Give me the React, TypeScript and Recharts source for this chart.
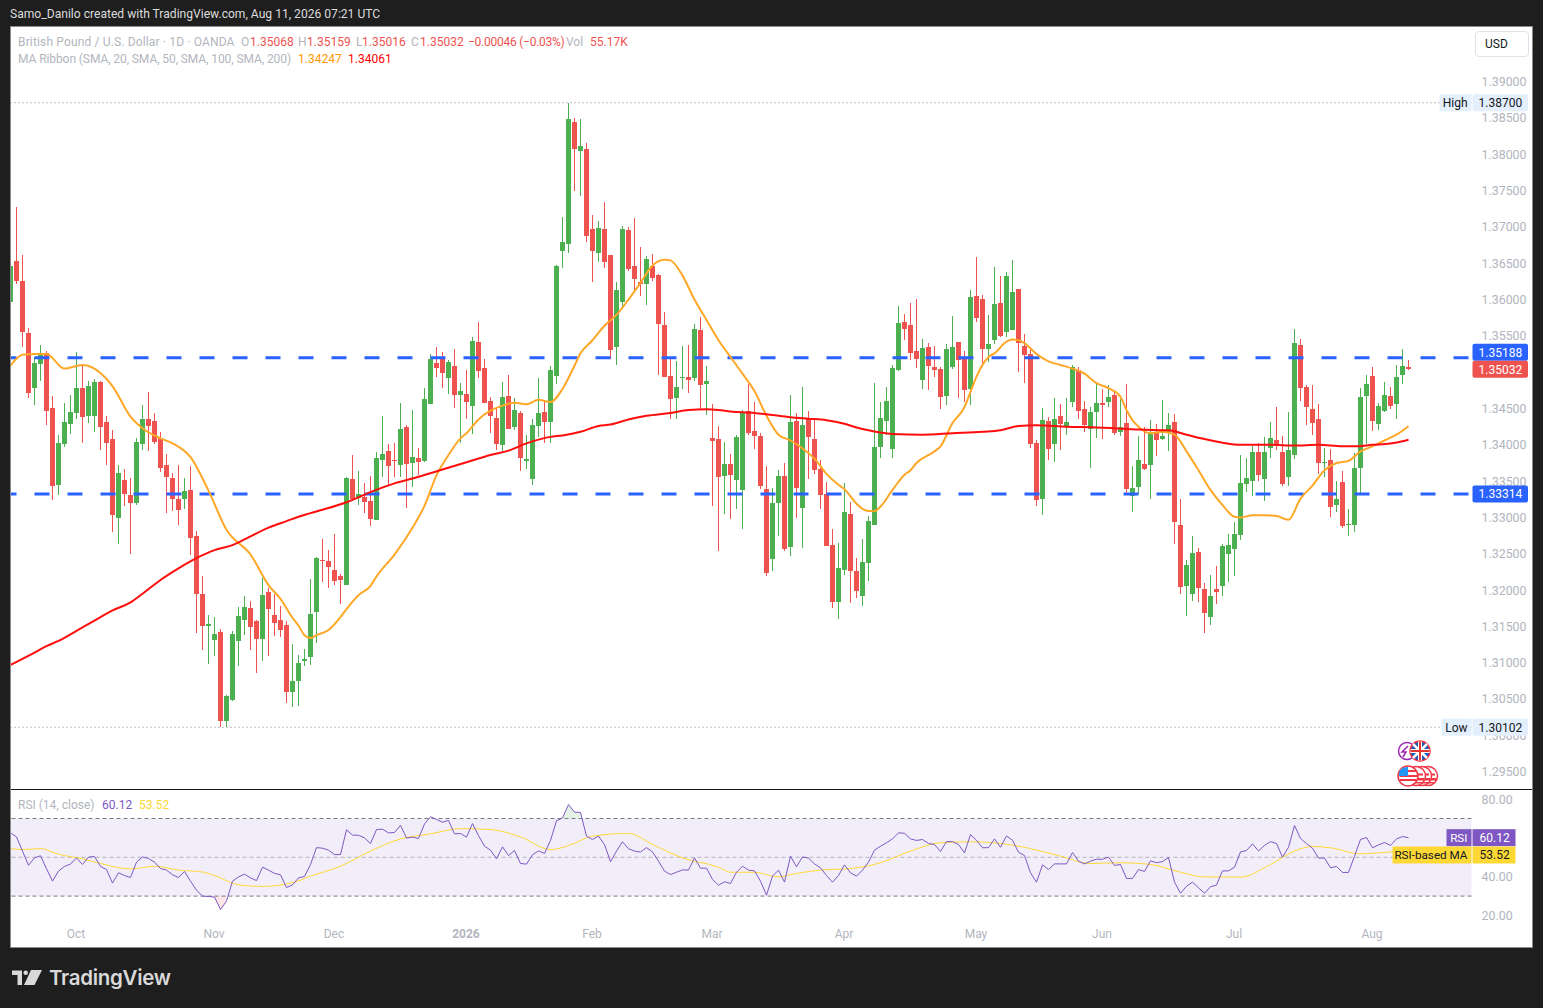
import { Bar, Area, ComposedChart, Line, ReferenceArea, ReferenceLine, XAxis, YAxis } from 'recharts';

const GREEN = '#4caf50';
const RED = '#ef5350';
const BLUE = '#2962ff';
const GRAY = '#b2b5be';
const FONT = 'Roboto, sans-serif';

const opens = [
  1.3596, 1.3652, 1.3625, 1.3553, 1.3477, 1.3510, 1.3525, 1.3450, 1.3344, 1.3400,
  1.3428, 1.3443, 1.3477, 1.3439, 1.3439, 1.3486, 1.3430, 1.3407, 1.3298, 1.3351,
  1.3330, 1.3319, 1.3400, 1.3435, 1.3432, 1.3409, 1.3371, 1.3354, 1.3324, 1.3324,
  1.3337, 1.3274, 1.3194, 1.3150, 1.3130, 1.3141, 1.3019, 1.3048, 1.3129, 1.3158,
  1.3175, 1.3156, 1.3132, 1.3196, 1.3165, 1.3158, 1.3151, 1.3059, 1.3074, 1.3102,
  1.3107, 1.3169, 1.3241, 1.3239, 1.3227, 1.3219, 1.3206, 1.3352, 1.3326, 1.3327,
  1.3322, 1.3295, 1.3378, 1.3391, 1.3378, 1.3371, 1.3424, 1.3374, 1.3381, 1.3377,
  1.3455, 1.3512, 1.3520, 1.3491, 1.3508, 1.3468, 1.3469, 1.3453, 1.3541, 1.3505,
  1.3459, 1.3436, 1.3399, 1.3466, 1.3424, 1.3443, 1.3377, 1.3352, 1.3425, 1.3444,
  1.3430, 1.3494, 1.3666, 1.3675, 1.3844, 1.3803, 1.3806, 1.3696, 1.3663, 1.3696,
  1.3660, 1.3534, 1.3595, 1.3695, 1.3645, 1.3623, 1.3621, 1.3645, 1.3633, 1.3564,
  1.3494, 1.3463, 1.3491, 1.3492, 1.3491, 1.3557, 1.3483, 1.3408, 1.3407, 1.3356,
  1.3373, 1.3351, 1.3337, 1.3446, 1.3418, 1.3411, 1.3338, 1.3242, 1.3319, 1.3356,
  1.3259, 1.3432, 1.3312, 1.3436, 1.3407, 1.3366, 1.3331, 1.3261, 1.3183, 1.3227,
  1.3304, 1.3226, 1.3191, 1.3237, 1.3289, 1.3396, 1.3432, 1.3393, 1.3502, 1.3568,
  1.3564, 1.3528, 1.3488, 1.3534, 1.3506, 1.3503, 1.3466, 1.3506, 1.3541, 1.3517,
  1.3476, 1.3604, 1.3600, 1.3531, 1.3543, 1.3594, 1.3554, 1.3557, 1.3614, 1.3535,
  1.3524, 1.3402, 1.3325, 1.3432, 1.3400, 1.3439, 1.3425, 1.3458, 1.3502, 1.3448,
  1.3421, 1.3444, 1.3457, 1.3458, 1.3468, 1.3417, 1.3429, 1.3329, 1.3341, 1.3373,
  1.3371, 1.3415, 1.3407, 1.3417, 1.3430, 1.3289, 1.3205, 1.3194, 1.3251, 1.3200,
  1.3162, 1.3200, 1.3205, 1.3249, 1.3256, 1.3275, 1.3345, 1.3349, 1.3389, 1.3352,
  1.3395, 1.3406, 1.3389, 1.3355, 1.3385, 1.3537, 1.3479, 1.3448, 1.3435, 1.3374,
  1.3378, 1.3316, 1.3348, 1.3289, 1.3289, 1.3367, 1.3466, 1.3494, 1.3428, 1.3446,
  1.3466, 1.3455, 1.3495, 1.35068,
];

const highs = [
  1.3672, 1.3727, 1.3660, 1.3560, 1.3520, 1.3536, 1.3528, 1.3466, 1.3413, 1.3456,
  1.3468, 1.3527, 1.3510, 1.3487, 1.3490, 1.3487, 1.3439, 1.3420, 1.3371, 1.3366,
  1.3354, 1.3409, 1.3454, 1.3472, 1.3443, 1.3417, 1.3387, 1.3360, 1.3371, 1.3354,
  1.3370, 1.3281, 1.3219, 1.3165, 1.3162, 1.3146, 1.3054, 1.3143, 1.3176, 1.3191,
  1.3184, 1.3158, 1.3216, 1.3202, 1.3194, 1.3177, 1.3156, 1.3125, 1.3110, 1.3118,
  1.3214, 1.3245, 1.3269, 1.3254, 1.3276, 1.3221, 1.3355, 1.3385, 1.3363, 1.3347,
  1.3356, 1.3389, 1.3439, 1.3400, 1.3401, 1.3457, 1.3426, 1.3447, 1.3394, 1.3477,
  1.3524, 1.3534, 1.3527, 1.3516, 1.3531, 1.3484, 1.3502, 1.3548, 1.3568, 1.3517,
  1.3465, 1.3451, 1.3486, 1.3495, 1.3463, 1.3446, 1.3413, 1.3434, 1.3491, 1.3459,
  1.3508, 1.3647, 1.3713, 1.3870, 1.3849, 1.3848, 1.3815, 1.3716, 1.3707, 1.3733,
  1.3660, 1.3623, 1.3700, 1.3699, 1.3711, 1.3671, 1.3659, 1.3662, 1.3634, 1.3582,
  1.3517, 1.3515, 1.3535, 1.3536, 1.3565, 1.3575, 1.3507, 1.3455, 1.3425, 1.3403,
  1.3386, 1.3413, 1.3447, 1.3483, 1.3458, 1.3415, 1.3370, 1.3340, 1.3364, 1.3374,
  1.3468, 1.3443, 1.3479, 1.3446, 1.3436, 1.3378, 1.3348, 1.3283, 1.3264, 1.3347,
  1.3320, 1.3243, 1.3270, 1.3301, 1.3484, 1.3458, 1.3479, 1.3509, 1.3590, 1.3579,
  1.3594, 1.3600, 1.3545, 1.3539, 1.3535, 1.3506, 1.3538, 1.3576, 1.3541, 1.3528,
  1.3612, 1.3658, 1.3605, 1.3578, 1.3644, 1.3632, 1.3637, 1.3654, 1.3614, 1.3552,
  1.3532, 1.3406, 1.3450, 1.3437, 1.3463, 1.3455, 1.3463, 1.3509, 1.3506, 1.3459,
  1.3451, 1.3486, 1.3476, 1.3481, 1.3472, 1.3462, 1.3483, 1.3370, 1.3411, 1.3424,
  1.3433, 1.3428, 1.3461, 1.3443, 1.3442, 1.3324, 1.3240, 1.3273, 1.3257, 1.3209,
  1.3220, 1.3232, 1.3262, 1.3276, 1.3293, 1.3385, 1.3381, 1.3397, 1.3401, 1.3410,
  1.3430, 1.3451, 1.3411, 1.3444, 1.3558, 1.3545, 1.3481, 1.3481, 1.3455, 1.3395,
  1.3393, 1.3349, 1.3363, 1.3311, 1.3388, 1.3477, 1.3495, 1.3506, 1.3457, 1.3486,
  1.3479, 1.3509, 1.3531, 1.35159,
];

const lows = [
  1.3596, 1.3620, 1.3534, 1.3463, 1.3454, 1.3487, 1.3426, 1.3323, 1.3330, 1.3396,
  1.3414, 1.3435, 1.3402, 1.3429, 1.3417, 1.3392, 1.3371, 1.3279, 1.3262, 1.3315,
  1.3249, 1.3316, 1.3392, 1.3390, 1.3400, 1.3362, 1.3305, 1.3308, 1.3288, 1.3311,
  1.3248, 1.3140, 1.3117, 1.3097, 1.3108, 1.3011, 1.30102, 1.3046, 1.3094, 1.3137,
  1.3117, 1.3085, 1.3101, 1.3108, 1.3136, 1.3134, 1.3044, 1.3038, 1.3040, 1.3094,
  1.3096, 1.3126, 1.3210, 1.3202, 1.3206, 1.3180, 1.3206, 1.3322, 1.3316, 1.3305,
  1.3287, 1.3295, 1.3355, 1.3344, 1.3355, 1.3355, 1.3312, 1.3341, 1.3357, 1.3375,
  1.3455, 1.3492, 1.3477, 1.3469, 1.3450, 1.3401, 1.3435, 1.3414, 1.3491, 1.3457,
  1.3415, 1.3392, 1.3391, 1.3421, 1.3420, 1.3363, 1.3366, 1.3344, 1.3410, 1.3401,
  1.3401, 1.3483, 1.3642, 1.3663, 1.3749, 1.3742, 1.3678, 1.3623, 1.3651, 1.3642,
  1.3517, 1.3509, 1.3586, 1.3638, 1.3609, 1.3604, 1.3591, 1.3625, 1.3495, 1.3492,
  1.3434, 1.3434, 1.3476, 1.3470, 1.3487, 1.3447, 1.3440, 1.3315, 1.3253, 1.3304,
  1.3297, 1.3311, 1.3283, 1.3413, 1.3393, 1.3338, 1.3219, 1.3226, 1.3273, 1.3253,
  1.3246, 1.3298, 1.3257, 1.3352, 1.3359, 1.3311, 1.3260, 1.3174, 1.3159, 1.3220,
  1.3181, 1.3188, 1.3177, 1.3212, 1.3289, 1.3381, 1.3412, 1.3381, 1.3501, 1.3543,
  1.3516, 1.3505, 1.3476, 1.3475, 1.3493, 1.3448, 1.3454, 1.3503, 1.3464, 1.3458,
  1.3454, 1.3568, 1.3512, 1.3513, 1.3538, 1.3548, 1.3548, 1.3557, 1.3499, 1.3484,
  1.3395, 1.3315, 1.3302, 1.3378, 1.3375, 1.3392, 1.3413, 1.3451, 1.3435, 1.3417,
  1.3367, 1.3409, 1.3407, 1.3451, 1.3413, 1.3411, 1.3330, 1.3307, 1.3332, 1.3365,
  1.3324, 1.3384, 1.3406, 1.3391, 1.3262, 1.3194, 1.3163, 1.3184, 1.3183, 1.3140,
  1.3151, 1.3180, 1.3191, 1.3210, 1.3218, 1.3268, 1.3334, 1.3329, 1.3349, 1.3322,
  1.3381, 1.3392, 1.3342, 1.3342, 1.3380, 1.3459, 1.3426, 1.3413, 1.3359, 1.3355,
  1.3300, 1.3306, 1.3284, 1.3273, 1.3279, 1.3333, 1.3400, 1.3418, 1.3419, 1.3444,
  1.3448, 1.3435, 1.3483, 1.35016,
];

const closes = [
  1.3645, 1.3624, 1.3554, 1.3470, 1.3512, 1.3526, 1.3446, 1.3342, 1.3402, 1.3430,
  1.3444, 1.3477, 1.3437, 1.3480, 1.3486, 1.3423, 1.3402, 1.3302, 1.3360, 1.3331,
  1.3319, 1.3403, 1.3435, 1.3425, 1.3403, 1.3367, 1.3355, 1.3324, 1.3309, 1.3335,
  1.3271, 1.3194, 1.3150, 1.3152, 1.3139, 1.3019, 1.3053, 1.3139, 1.3163, 1.3176,
  1.3148, 1.3132, 1.3192, 1.3173, 1.3154, 1.3144, 1.3059, 1.3074, 1.3099, 1.3104,
  1.3166, 1.3243, 1.3239, 1.3231, 1.3212, 1.3213, 1.3354, 1.3325, 1.3331, 1.3320,
  1.3297, 1.3381, 1.3387, 1.3370, 1.3377, 1.3421, 1.3373, 1.3382, 1.3375, 1.3462,
  1.3517, 1.3505, 1.3498, 1.3513, 1.3468, 1.3473, 1.3458, 1.3542, 1.3501, 1.3457,
  1.3439, 1.3400, 1.3465, 1.3421, 1.3447, 1.3381, 1.3380, 1.3426, 1.3443, 1.3430,
  1.3502, 1.3645, 1.3678, 1.3848, 1.3806, 1.3810, 1.3687, 1.3666, 1.3697, 1.3651,
  1.3529, 1.3612, 1.3696, 1.3641, 1.3627, 1.3621, 1.3655, 1.3629, 1.3565, 1.3492,
  1.3462, 1.3479, 1.3492, 1.3488, 1.3559, 1.3481, 1.3487, 1.3404, 1.3355, 1.3373,
  1.3358, 1.3410, 1.3444, 1.3415, 1.3411, 1.3342, 1.3223, 1.3319, 1.3356, 1.3256,
  1.3430, 1.3340, 1.3426, 1.3410, 1.3364, 1.3330, 1.3260, 1.3183, 1.3229, 1.3307,
  1.3226, 1.3198, 1.3238, 1.3294, 1.3396, 1.3436, 1.3459, 1.3505, 1.3567, 1.3559,
  1.3526, 1.3517, 1.3532, 1.3508, 1.3502, 1.3465, 1.3531, 1.3534, 1.3516, 1.3474,
  1.3603, 1.3574, 1.3531, 1.3538, 1.3593, 1.3549, 1.3632, 1.3610, 1.3539, 1.3523,
  1.3400, 1.3323, 1.3433, 1.3393, 1.3435, 1.3428, 1.3431, 1.3506, 1.3446, 1.3426,
  1.3444, 1.3457, 1.3454, 1.3465, 1.3415, 1.3424, 1.3338, 1.3340, 1.3378, 1.3366,
  1.3415, 1.3406, 1.3411, 1.3426, 1.3293, 1.3203, 1.3234, 1.3250, 1.3202, 1.3167,
  1.3191, 1.3196, 1.3260, 1.3261, 1.3276, 1.3346, 1.3353, 1.3389, 1.3357, 1.3389,
  1.3408, 1.3399, 1.3345, 1.3392, 1.3539, 1.3477, 1.3451, 1.3429, 1.3374, 1.3375,
  1.3313, 1.3324, 1.3287, 1.3290, 1.3367, 1.3465, 1.3483, 1.3432, 1.3453, 1.3468,
  1.3453, 1.3492, 1.3508, 1.35032,
];

const sma20Bars = [
  0, 2, 4, 6, 9, 12, 15, 17, 20, 22, 25, 27, 30, 33, 36, 40, 43, 45, 47, 48, 49, 50, 51, 53, 55, 56, 58, 60, 61, 64,
  67, 69, 71, 73, 75, 76, 78, 80, 82, 84, 86, 88, 90, 92, 94, 95, 97, 99, 101, 103, 105, 107, 109, 110, 112, 114, 116, 118, 120, 122,
  124, 126, 128, 130, 132, 134, 136, 138, 139, 141, 142, 143, 144, 145, 147, 149, 150, 151, 154, 155, 157, 159, 160, 161, 163, 164, 166, 167, 168, 169,
  171, 173, 175, 177, 179, 181, 183, 185, 186, 187, 188, 190, 192, 194, 196, 198, 200, 202, 204, 205, 207, 209, 211, 213, 215, 217, 219, 221, 223, 225,
  227, 229, 231, 233,
];
const sma20Values = [
  1.3508, 1.3523, 1.3524, 1.3524, 1.3504, 1.3509, 1.3498, 1.3480, 1.3438, 1.3422, 1.3408, 1.3401, 1.3382, 1.3336, 1.3282, 1.3248, 1.3206, 1.3187, 1.3161, 1.3150, 1.3137, 1.3133, 1.3137, 1.3144, 1.3162, 1.3173, 1.3192, 1.3205, 1.3218, 1.3248,
  1.3285, 1.3315, 1.3357, 1.3385, 1.3408, 1.3415, 1.3434, 1.3446, 1.3453, 1.3457, 1.3455, 1.3461, 1.3458, 1.3476, 1.3508, 1.3525, 1.3543, 1.3563, 1.3578, 1.3599, 1.3622, 1.3646, 1.3654, 1.3653, 1.3632, 1.3599, 1.3571, 1.3543, 1.3520, 1.3497,
  1.3473, 1.3439, 1.3413, 1.3405, 1.3394, 1.3380, 1.3359, 1.3344, 1.3338, 1.3318, 1.3311, 1.3308, 1.3308, 1.3314, 1.3337, 1.3358, 1.3364, 1.3374, 1.3390, 1.3397, 1.3429, 1.3451, 1.3472, 1.3493, 1.3520, 1.3525, 1.3541, 1.3544, 1.3543, 1.3539,
  1.3524, 1.3514, 1.3509, 1.3504, 1.3497, 1.3484, 1.3477, 1.3465, 1.3447, 1.3433, 1.3424, 1.3415, 1.3417, 1.3413, 1.3390, 1.3364, 1.3337, 1.3316, 1.3300, 1.3299, 1.3302, 1.3302, 1.3301, 1.3296, 1.3325, 1.3343, 1.3364, 1.3374, 1.3377, 1.3390,
  1.3397, 1.3405, 1.3413, 1.34247,
];

const sma200Bars = [
  0, 4, 6, 8, 11, 14, 17, 20, 22, 25, 28, 31, 34, 37, 40, 43, 46, 48, 50, 56, 60, 64, 68, 72, 76, 80, 83, 86, 90, 92,
  95, 98, 100, 103, 106, 110, 113, 116, 118, 120, 124, 127, 130, 133, 136, 139, 141, 143, 147, 152, 157, 162, 165, 168, 171, 176, 181, 186, 188, 193,
  196, 199, 202, 205, 210, 214, 218, 222, 224, 227, 230, 232, 233,
];
const sma200Values = [
  1.3096, 1.3113, 1.3122, 1.3129, 1.3143, 1.3157, 1.3171, 1.3182, 1.3194, 1.3213, 1.3229, 1.3243, 1.3254, 1.3261, 1.3273, 1.3285, 1.3294, 1.3300, 1.3305, 1.3320, 1.3334, 1.3346, 1.3355, 1.3365, 1.3375, 1.3385, 1.3391, 1.3401, 1.3410, 1.3412,
  1.3417, 1.3425, 1.3427, 1.3434, 1.3439, 1.3443, 1.3447, 1.3448, 1.3447, 1.3445, 1.3443, 1.3440, 1.3437, 1.3435, 1.3433, 1.3428, 1.3423, 1.3419, 1.3414, 1.3413, 1.3415, 1.3417, 1.3419, 1.3425, 1.3426, 1.3424, 1.3423, 1.3421, 1.3420, 1.3419,
  1.3413, 1.3407, 1.3402, 1.3399, 1.3399, 1.3398, 1.3399, 1.3397, 1.3397, 1.3399, 1.3401, 1.3404, 1.34061,
];

const rsiValues = [
  62.6, 60.5, 53.2, 45.9, 49.7, 50.8, 44.1, 37.7, 42.9, 45.3,
  46.5, 49.7, 46.3, 50.1, 50.4, 45.3, 43.7, 36.7, 42, 40.6,
  39.6, 47.5, 50.2, 49.4, 47.5, 44.2, 43.4, 41, 39.6, 42.7,
  37.7, 33, 30, 29.8, 29.5, 23.1, 27.4, 37.7, 39.9, 41.3,
  39.4, 38, 44.9, 43.4, 41.7, 41, 34.4, 35.8, 39.4, 40.1,
  46.3, 55, 54.7, 53.7, 51.4, 51.4, 64.2, 61.4, 61.4, 60,
  57.1, 64.3, 64.5, 62.6, 62.8, 66.5, 59.9, 60.4, 59.7, 67.2,
  70.9, 69.5, 68.1, 69, 62.1, 62.3, 60.4, 67.4, 61.2, 55.7,
  53.7, 49.2, 55.4, 50.9, 53.5, 46.8, 46.5, 51.3, 53.3, 52,
  58.7, 68.8, 70.3, 77.2, 73.3, 73.1, 60.9, 59.2, 60.9, 56.6,
  47.7, 53.2, 58, 54.4, 53.2, 52.7, 55, 52.8, 48, 42.9,
  41.1, 42.3, 43.5, 43.4, 49.7, 44.4, 44.4, 38.6, 35.6,
  37.4, 36.5, 42.3, 45.4, 43.4, 43, 37.7, 30.5, 40.3, 43.4,
  37.2, 50.6, 45.1, 50.2, 49.6, 46.6, 44.6, 40.6, 37.2, 40.6,
  46.1, 42, 40.3, 43.4, 47.5, 53.7, 55.7, 57.5, 59.5, 62.6,
  62.4, 59.5, 58.7, 59.2, 57.1, 56.6, 53, 58.1, 58.1, 56.6,
  52.3, 61.7, 58.8, 54.9, 55, 59.5, 55.2, 61, 58.8, 52.6,
  50.9, 42, 37.2, 46.1, 43.7, 46.6, 46.6, 46.6, 52.5, 48,
  46.6, 48, 49, 49, 50.1, 45.8, 46.3, 39.1, 39.1, 43.7,
  42.7, 48.2, 47.2, 47.8, 49.9, 37.2, 31.5, 35.1, 37.2, 34.3,
  31.5, 34.8, 35.7, 43, 43, 44.9, 52.8, 53.5, 56.9, 53.3,
  56.1, 58.1, 57.1, 50.1, 55.2, 66.4, 59.7, 57.1, 54.7, 49.6,
  49.6, 44.6, 45.3, 42.2, 42.2, 50.6, 59.2, 60.2, 54.9, 56.4,
  57.6, 56.1, 59.5, 60.7, 60.12,
];

const rsiMaBars = [
  0, 2, 5, 8, 12, 15, 20, 24, 28, 32, 34, 38, 42, 47, 50, 55, 60, 65, 70, 75, 80, 85, 90, 93, 97, 103, 107, 112, 118,
  120, 124, 128, 131, 135, 140, 145, 150, 155, 160, 165, 170, 175, 180, 185, 190, 195, 199, 205, 210, 214, 217, 220, 225, 228, 233,
];
const rsiMaValues = [
  54.4, 54, 54.5, 51.6, 49.2, 46.8, 44, 45.4, 43.4, 42.4, 40.6, 35.8, 35, 36.9, 40.3, 45.4, 53.2, 59.5, 62.1, 64.8, 64.3, 60.5, 54, 56, 60.9, 62.3, 56.6, 49.7, 44.9,
  42.3, 42.3, 39.9, 41.7, 43.4, 44.2, 47.2, 53.2, 57.5, 58, 57.1, 54.5, 50.6, 46.8, 47.2, 46.3, 42.3, 39.9, 39.8, 46.3, 53.2, 55.6, 54.9, 51.8, 52.3, 53.52,
];

const priceTicks = [
  1.39, 1.385, 1.38, 1.375, 1.37, 1.365, 1.36, 1.355, 1.35, 1.345,
  1.34, 1.335, 1.33, 1.325, 1.32, 1.315, 1.31, 1.305, 1.3, 1.295,
];
const rsiTicks = [80, 40, 20];
const monthBars = [11, 34, 54, 76, 97, 117, 139, 161, 182, 204, 227];
const monthLabels = ['Oct', 'Nov', 'Dec', '2026', 'Feb', 'Mar', 'Apr', 'May', 'Jun', 'Jul', 'Aug'];

const TOTAL_SLOTS = 244;
const PRICE_DOMAIN = [1.29252, 1.39743];

const lookup = (bars: number[], values: number[], i: number) => {
  const at = bars.indexOf(i);
  return at >= 0 ? values[at] : null;
};

const priceRows = Array.from({ length: TOTAL_SLOTS }, (_, i) => ({
  i,
  open: i < opens.length ? opens[i] : null,
  high: i < opens.length ? highs[i] : null,
  low: i < opens.length ? lows[i] : null,
  close: i < opens.length ? closes[i] : null,
  sma20: lookup(sma20Bars, sma20Values, i),
  sma200: lookup(sma200Bars, sma200Values, i),
}));

const rsiRows = Array.from({ length: TOTAL_SLOTS }, (_, i) => ({
  i,
  rsi: i < rsiValues.length ? rsiValues[i] : null,
  rsiMa: lookup(rsiMaBars, rsiMaValues, i),
}));

function Candle(props: any) {
  const { x, y, width, height, payload } = props;
  if (payload.high == null || !height) return null;
  const perUnit = Math.abs(height) / (payload.high - payload.low);
  const top = Math.min(y, y + height);
  const toY = (v: number) => top + (payload.high - v) * perUnit;
  const cx = Math.floor(x + width / 2);
  const bodyTop = toY(Math.max(payload.open, payload.close));
  const bodyBottom = toY(Math.min(payload.open, payload.close));
  const color = payload.close >= payload.open ? GREEN : RED;
  return (
    <g shapeRendering="crispEdges">
      <rect x={cx} y={top} width={1} height={Math.abs(height)} fill={color} />
      <rect x={cx - 2} y={bodyTop} width={5} height={Math.max(bodyBottom - bodyTop, 1)} fill={color} />
    </g>
  );
}

function PriceTag(props: any) {
  const { viewBox, text, name, nameWidth = 0, fill, color, shift = 0 } = props;
  const right = viewBox.x + viewBox.width;
  const cy = viewBox.y + shift;
  return (
    <g style={{ fontFamily: FONT, fontSize: 12 }}>
      {name && <rect x={right - nameWidth} y={cy - 8.5} width={nameWidth} height={17} fill={fill} />}
      {name && <text x={right - 4} y={cy + 4.5} textAnchor="end" fill={color}>{name}</text>}
      <rect x={right + 1} y={cy - 8.5} width={55.5} height={17} rx={2} fill={fill} />
      <text x={right + 7} y={cy + 4.5} fill={color}>{text}</text>
    </g>
  );
}

function RsiTag(props: any) {
  const { viewBox, text, name, nameWidth, fill, color, shift = 0 } = props;
  const right = viewBox.x + viewBox.width;
  const cy = viewBox.y + shift;
  return (
    <g style={{ fontFamily: FONT, fontSize: 12 }}>
      <rect x={right - nameWidth} y={cy - 8.5} width={nameWidth} height={17} fill={fill} />
      <text x={right - 4} y={cy + 4.5} textAnchor="end" fill={color} style={{ fontSize: 11.7 }}>{name}</text>
      <rect x={right + 1} y={cy - 8.5} width={43} height={17} fill={fill} />
      <text x={right + 8} y={cy + 4.5} fill={color}>{text}</text>
    </g>
  );
}

function MonthTick(props: any) {
  const { x, y, payload } = props;
  const label = monthLabels[monthBars.indexOf(payload.value)];
  return (
    <text x={x - 0.5} y={y + 5} textAnchor="middle" fill={GRAY} fontSize={12} fontWeight={label === '2026' ? 700 : 400}>
      {label}
    </text>
  );
}

const legendText = (x: number, y: number, text: string, color: string, spacing = 0) => (
  <span style={{ position: 'absolute', left: x, top: y, color, whiteSpace: 'nowrap', lineHeight: '16px', letterSpacing: spacing }}>{text}</span>
);

function FlagIcons() {
  const stripes = (cx: number) => (
    <g key={cx}>
      <circle cx={cx} cy={776} r={9.5} fill="#fff" stroke="#f23645" strokeWidth={1.5} />
      <rect x={cx - 8} y={778} width={16} height={2.5} fill="#f23645" />
      <rect x={cx - 6} y={773.5} width={13} height={2} fill="#f23645" />
      <rect x={cx - 6} y={782} width={12} height={1.5} fill="#f23645" />
    </g>
  );
  return (
    <svg width={1543} height={1008} style={{ position: 'absolute', left: 0, top: 0, pointerEvents: 'none' }}>
      <circle cx={1407} cy={751} r={8.5} fill="#fff" stroke="#9c27b0" strokeWidth={1.5} />
      <path d="M1408 746 L1402 752 L1406 752 L1403 757" fill="none" stroke="#9c27b0" strokeWidth={1.5} />
      <circle cx={1420} cy={751} r={10} fill="#1e5bb5" stroke="#f23645" strokeWidth={1.5} />
      <path d="M1413 744 L1427 758 M1427 744 L1413 758" stroke="#fff" strokeWidth={2.5} />
      <path d="M1420 741.5 V760.5 M1410.5 751 H1429.5" stroke="#fff" strokeWidth={4} />
      <path d="M1420 741.5 V760.5 M1410.5 751 H1429.5" stroke="#e53935" strokeWidth={2} />
      {[1428, 1422, 1416].map(stripes)}
      <circle cx={1408} cy={776} r={10} fill="#fff" stroke="#f23645" strokeWidth={1.5} />
      <path d="M1399.5 771 H1416.5 M1399.5 776 H1417.5 M1399.5 780 H1416.5" stroke="#f23645" strokeWidth={2} />
      <path d="M1400 770 A9 9 0 0 1 1408 767 V776 H1399 A9 9 0 0 1 1400 770 Z" fill="#2196f3" />
    </svg>
  );
}

export default function App() {
  return (
    <div style={{ position: 'absolute', left: 0, top: 0, width: 1543, height: 1008, background: '#1e1e1e', fontFamily: FONT, overflow: 'hidden' }}>
      <span style={{ position: 'absolute', left: 10, top: 6, color: '#dcdcdc', fontSize: 12.1, lineHeight: '16px', whiteSpace: 'nowrap' }}>
        Samo_Danilo created with TradingView.com, Aug 11, 2026 07:21 UTC
      </span>

      {/* white panel, the charts sit inside it in page coordinates */}
      <div style={{ position: 'absolute', left: 10, top: 26, width: 1523, height: 922, background: '#fff', overflow: 'hidden' }}>
        <div style={{ position: 'absolute', left: -10, top: -26, width: 1543, height: 1008 }}>
          <div style={{ position: 'absolute', left: 0, top: 0 }}>
            <ComposedChart
              width={1533}
              height={789}
              data={priceRows}
              margin={{ top: 27, left: 7.5, right: 0, bottom: 0 }}
              barCategoryGap={0}
            >
              <XAxis dataKey="i" hide />
              <YAxis
                orientation="right"
                width={61.5}
                domain={PRICE_DOMAIN}
                allowDataOverflow
                ticks={priceTicks}
                interval={0}
                axisLine={false}
                tickLine={false}
                tickMargin={4}
                tick={{ fill: GRAY, fontSize: 12.4, dy: 0.7 }}
                tickFormatter={(v: number) => v.toFixed(5)}
              />
              <ReferenceLine y={1.35188} stroke={BLUE} strokeWidth={3} strokeDasharray="15 18" strokeDashoffset={-3} />
              <ReferenceLine y={1.33314} stroke={BLUE} strokeWidth={3} strokeDasharray="15 18" strokeDashoffset={-3} />
              <ReferenceLine y={1.387} stroke="#787b86" strokeWidth={1} strokeDasharray="1 3" />
              <ReferenceLine y={1.30102} stroke="#787b86" strokeWidth={1} strokeDasharray="1 3" />
              <Bar dataKey={(d: any) => (d.high == null ? null : [d.low, d.high])} shape={<Candle />} isAnimationActive={false} />
              <Line dataKey="sma20" connectNulls dot={false} stroke="#ffa726" strokeWidth={2} type="monotone" isAnimationActive={false} />
              <Line dataKey="sma200" connectNulls dot={false} stroke="#ff0d0d" strokeWidth={2} type="monotone" isAnimationActive={false} />
            </ComposedChart>
          </div>

          {/* price tags go in their own layer so they cover the axis labels */}
          <div style={{ position: 'absolute', left: 0, top: 0 }}>
            <ComposedChart
              width={1533}
              height={789}
              data={priceRows}
              margin={{ top: 27, left: 7.5, right: 61.5, bottom: 0 }}
            >
              <XAxis dataKey="i" hide />
              <YAxis hide domain={PRICE_DOMAIN} allowDataOverflow />
              <ReferenceLine y={1.35188} stroke="none" label={<PriceTag text="1.35188" fill={BLUE} color="#fff" shift={-5.5} />} />
              <ReferenceLine y={1.35032} stroke="none" label={<PriceTag text="1.35032" fill={RED} color="#fff" />} />
              <ReferenceLine y={1.33314} stroke="none" label={<PriceTag text="1.33314" fill={BLUE} color="#fff" />} />
              <ReferenceLine y={1.387} stroke="none" label={<PriceTag text="1.38700" name="High" nameWidth={32} fill="#e3effd" color="#131722" />} />
              <ReferenceLine y={1.30102} stroke="none" label={<PriceTag text="1.30102" name="Low" nameWidth={30} fill="#e3effd" color="#131722" />} />
            </ComposedChart>
          </div>

          <div style={{ position: 'absolute', left: 0, top: 790 }}>
            <ComposedChart
              width={1533}
              height={157}
              data={rsiRows}
              margin={{ top: 0, left: 7.5, right: 0, bottom: 0 }}
            >
              <XAxis
                dataKey="i"
                type="number"
                domain={[-0.5, 243.5]}
                ticks={monthBars}
                interval={0}
                axisLine={false}
                tickLine={false}
                height={22}
                tick={<MonthTick />}
              />
              <YAxis
                orientation="right"
                width={61.5}
                domain={[15.1, 84.7]}
                allowDataOverflow
                ticks={rsiTicks}
                interval={0}
                axisLine={false}
                tickLine={false}
                tickMargin={4}
                tick={{ fill: GRAY, fontSize: 12.4 }}
                tickFormatter={(v: number) => v.toFixed(2)}
              />
              <ReferenceArea y1={30} y2={70} fill="#7e57c2" fillOpacity={0.1} stroke="none" />
              <ReferenceLine y={70} stroke="#787b86" strokeDasharray="4 3" />
              <ReferenceLine y={50} stroke="#787b86" strokeOpacity={0.5} strokeDasharray="4 3" />
              <ReferenceLine y={30} stroke="#787b86" strokeDasharray="4 3" />
              <Area dataKey={(d: any) => (d.rsi != null && d.rsi > 70 ? [70, d.rsi] : null)} stroke="none" fill="#4caf50" fillOpacity={0.15} isAnimationActive={false} />
              <Area dataKey={(d: any) => (d.rsi != null && d.rsi < 30 ? [d.rsi, 30] : null)} stroke="none" fill="#ef5350" fillOpacity={0.15} isAnimationActive={false} />
              <Line dataKey="rsiMa" connectNulls dot={false} stroke="#fdd835" strokeWidth={1} type="monotone" isAnimationActive={false} />
              <Line dataKey="rsi" dot={false} stroke="#7e57c2" strokeWidth={1} isAnimationActive={false} />
              <ReferenceLine y={60.12} stroke="none"
                label={<RsiTag text="60.12" name="RSI" nameWidth={25} fill="#7e57c2" color="#fff" />} />
              <ReferenceLine y={53.52} stroke="none"
                label={<RsiTag text="53.52" name="RSI-based MA" nameWidth={79} fill="#fdd835" color="#131722" shift={4.5} />} />
            </ComposedChart>
          </div>

          <div style={{ position: 'absolute', left: 11, top: 789, width: 1522, height: 1, background: '#131722' }} />

          <div style={{ position: 'absolute', left: 0, top: 0, width: 1543, height: 1008, fontSize: 12, pointerEvents: 'none' }}>
            {legendText(18, 34, 'British Pound / U.S. Dollar · 1D · OANDA', GRAY, 0.15)}
            {legendText(241, 34, 'O', GRAY)}
            {legendText(250, 34, '1.35068', RED)}
            {legendText(298, 34, 'H', GRAY)}
            {legendText(307, 34, '1.35159', RED)}
            {legendText(356, 34, 'L', GRAY)}
            {legendText(362, 34, '1.35016', RED)}
            {legendText(411, 34, 'C', GRAY)}
            {legendText(420, 34, '1.35032', RED)}
            {legendText(468, 34, '−0.00046 (−0.03%)', RED, -0.25)}
            {legendText(566, 34, 'Vol', GRAY)}
            {legendText(590, 34, '55.17K', RED)}
            {legendText(18, 51, 'MA Ribbon (SMA, 20, SMA, 50, SMA, 100, SMA, 200)', GRAY, -0.08)}
            {legendText(298, 51, '1.34247', '#ff9800')}
            {legendText(348, 51, '1.34061', '#f00')}
            {legendText(18, 797, 'RSI (14, close)', GRAY)}
            {legendText(102, 797, '60.12', '#7e57c2')}
            {legendText(139, 797, '53.52', '#fdd835')}
            <div style={{ position: 'absolute', left: 1475, top: 31, width: 54, height: 26, boxSizing: 'border-box', background: '#fff', border: '1px solid #e0e3eb', borderRadius: 4, color: '#131722', lineHeight: '24px', paddingLeft: 9 }}>
              USD
            </div>
          </div>
          <FlagIcons />
        </div>
        <div style={{ position: 'absolute', inset: 0, border: '1px solid #8a8a8a', boxSizing: 'border-box', pointerEvents: 'none' }} />
      </div>

      <svg width={40} height={24} style={{ position: 'absolute', left: 10, top: 966 }}>
        <path d="M2 4.5 H12 V19 H7.5 V9 H2 Z" fill="#d9d9d9" />
        <circle cx={15.7} cy={6.7} r={2.3} fill="#d9d9d9" />
        <path d="M21 4 H32 L24.5 19 H14 Z" fill="#d9d9d9" />
      </svg>
      <span style={{ position: 'absolute', left: 49, top: 965, color: '#d9d9d9', fontFamily: 'Inter, sans-serif', fontWeight: 600, fontSize: 20.5, lineHeight: '26px', letterSpacing: -0.3 }}>
        TradingView
      </span>
    </div>
  );
}
